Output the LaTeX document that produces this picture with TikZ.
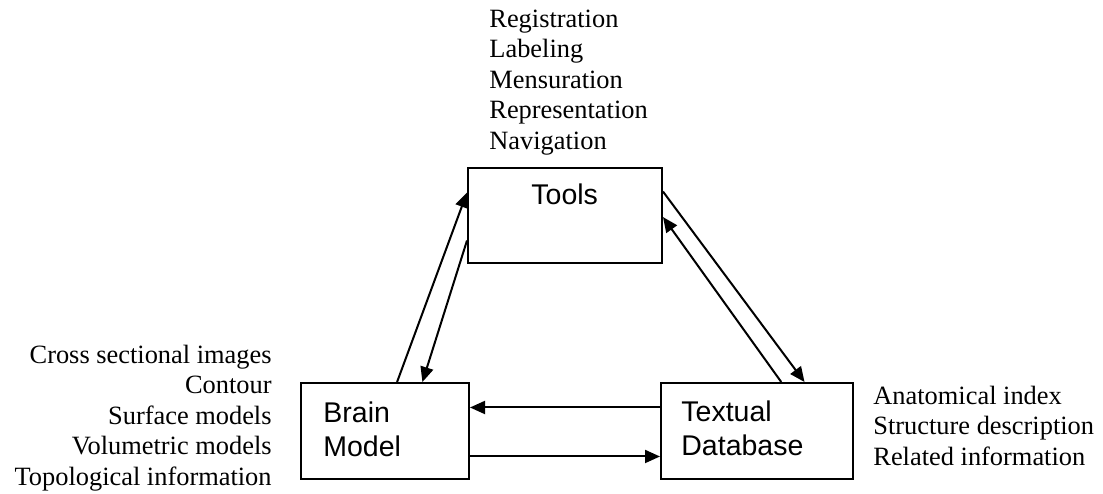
\documentclass[tikz,border=0pt]{standalone}
\usepackage{fontspec}
\setmainfont{Liberation Serif}
\setsansfont{Liberation Sans}
\usetikzlibrary{arrows.meta,calc}
\tikzset{
  px/.style={x=0.5pt,y=-0.5pt},
  box/.style={draw,line width=1pt,rectangle,inner sep=0pt},
  boxlabel/.style={anchor=base west,inner sep=0pt,align=left,
    font=\sffamily\fontsize{14.25pt}{16.9pt}\selectfont},
  listtext/.style={inner sep=0pt,font=\fontsize{13.2pt}{15.25pt}\selectfont},
  conn/.style={line width=1pt,-{Triangle[length=7.5pt,width=6.5pt]}}
}
\begin{document}
\begin{tikzpicture}[px]
\useasboundingbox (0,0) rectangle (1103,493);
% boxes
\node[box,minimum width=97pt,minimum height=47.5pt] (tools) at (565,215.5) {};
\node[box,minimum width=84pt,minimum height=48pt] (brain) at (385,431) {};
\node[box,minimum width=96pt,minimum height=48pt] (textual) at (757,431) {};
% box labels (base anchor = baseline of last line)
\node[boxlabel] (toolslbl) at (531,204) {Tools};
\node[boxlabel] (brainlbl) at (323,456) {Brain\\Model};
\node[boxlabel] (textlbl) at (681,455.5) {Textual\\Database};
% lists
\node[listtext,anchor=base west,align=left] (toplist) at (489,149)
  {Registration\\Labeling\\Mensuration\\Representation\\Navigation};
\node[listtext,anchor=base east,align=right] (leftlist) at (272,485)
  {Cross sectional images\\Contour\\Surface models\\Volumetric models\\Topological information};
\node[listtext,anchor=base west,align=left] (rightlist) at (873,465)
  {Anatomical index\\Structure description\\Related information};
% connectors
\draw[conn] ($(brain.north west)!0.571!(brain.north east)$) -- ($(tools.north west)!0.263!(tools.south west)$);
\draw[conn] ($(tools.north west)!0.758!(tools.south west)$) -- ($(brain.north west)!0.72!(brain.north east)$);
\draw[conn] ($(tools.north east)!0.253!(tools.south east)$) -- ($(textual.north west)!0.745!(textual.north east)$);
\draw[conn] ($(textual.north west)!0.625!(textual.north east)$) -- ($(tools.north east)!0.516!(tools.south east)$);
\draw[conn] ($(textual.north west)!0.26!(textual.south west)$) -- ($(brain.north east)!0.26!(brain.south east)$);
\draw[conn] ($(brain.north east)!0.76!(brain.south east)$) -- ($(textual.north west)!0.76!(textual.south west)$);
\end{tikzpicture}
\end{document}
